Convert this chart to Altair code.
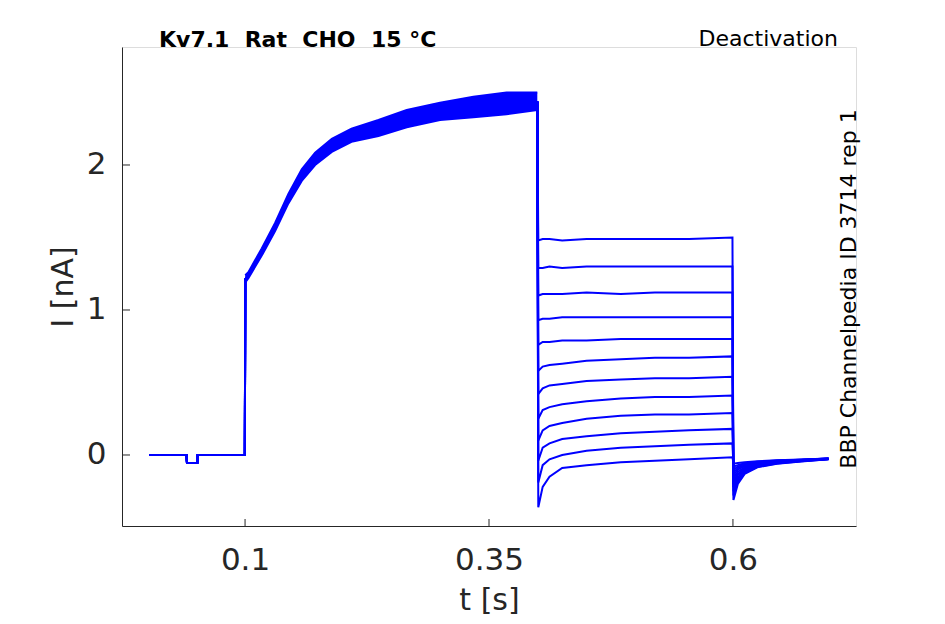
import altair as alt
import pandas as pd

# ---- values ----
T_BASE = [0.002, 0.040, 0.0405, 0.051, 0.0515, 0.0998]
I_BASE = [0.0, 0.0, -0.055, -0.055, 0.0, 0.0]

T_ACT = [0.1002, 0.1034, 0.1171, 0.1308, 0.1444, 0.1581, 0.1718, 0.1889,
         0.2091, 0.2367, 0.2657, 0.2998, 0.334, 0.368, 0.3995]
I_ACT_MID = [1.21, 1.24, 1.40, 1.57, 1.77, 1.93, 2.045, 2.135,
             2.205, 2.26, 2.32, 2.37, 2.40, 2.42, 2.43]
I_ACT_HI = [1.24, 1.26, 1.425, 1.60, 1.80, 1.97, 2.085, 2.18,
            2.25, 2.31, 2.38, 2.43, 2.47, 2.50, 2.50]
I_ACT_LO = [1.19, 1.22, 1.375, 1.545, 1.735, 1.89, 2.00, 2.09,
            2.16, 2.20, 2.26, 2.31, 2.33, 2.35, 2.38]

T_TAIL = [0.4005, 0.405, 0.412, 0.425, 0.45, 0.485, 0.52, 0.555, 0.5995]
TAIL_1 = [1.48, 1.49, 1.49, 1.48, 1.49, 1.49, 1.49, 1.49, 1.50]
TAIL_2 = [1.29, 1.29, 1.30, 1.29, 1.30, 1.30, 1.30, 1.30, 1.30]
TAIL_3 = [1.10, 1.11, 1.11, 1.11, 1.12, 1.11, 1.12, 1.12, 1.12]
TAIL_4 = [0.93, 0.94, 0.94, 0.95, 0.95, 0.95, 0.95, 0.95, 0.95]
TAIL_5 = [0.76, 0.78, 0.78, 0.79, 0.79, 0.80, 0.80, 0.80, 0.80]
TAIL_6 = [0.58, 0.61, 0.62, 0.63, 0.65, 0.66, 0.67, 0.67, 0.68]
TAIL_7 = [0.42, 0.46, 0.48, 0.49, 0.51, 0.52, 0.53, 0.53, 0.54]
TAIL_8 = [0.25, 0.31, 0.33, 0.35, 0.37, 0.39, 0.40, 0.40, 0.41]
TAIL_9 = [0.10, 0.17, 0.20, 0.22, 0.25, 0.27, 0.28, 0.28, 0.29]
TAIL_10 = [-0.04, 0.05, 0.08, 0.11, 0.13, 0.15, 0.16, 0.17, 0.18]
TAIL_11 = [-0.19, -0.07, -0.03, 0.00, 0.03, 0.05, 0.06, 0.07, 0.08]
TAIL_12 = [-0.36, -0.22, -0.15, -0.09, -0.07, -0.05, -0.04, -0.03, -0.015]

T_POST = [0.6005, 0.605, 0.612, 0.625, 0.645, 0.67, 0.698]
POST_1 = [-0.31, -0.20, -0.13, -0.085, -0.060, -0.045, -0.030]
POST_2 = [-0.28, -0.185, -0.125, -0.082, -0.058, -0.043, -0.030]
POST_3 = [-0.25, -0.17, -0.115, -0.078, -0.055, -0.042, -0.028]
POST_4 = [-0.22, -0.155, -0.108, -0.074, -0.053, -0.040, -0.028]
POST_5 = [-0.20, -0.14, -0.100, -0.070, -0.050, -0.038, -0.027]
POST_6 = [-0.18, -0.13, -0.092, -0.066, -0.048, -0.037, -0.027]
POST_7 = [-0.16, -0.115, -0.085, -0.062, -0.046, -0.036, -0.026]
POST_8 = [-0.14, -0.10, -0.077, -0.058, -0.044, -0.035, -0.026]
POST_9 = [-0.12, -0.09, -0.070, -0.054, -0.042, -0.034, -0.025]
POST_10 = [-0.10, -0.08, -0.063, -0.050, -0.040, -0.033, -0.025]
POST_11 = [-0.08, -0.07, -0.057, -0.047, -0.038, -0.032, -0.024]
POST_12 = [-0.06, -0.055, -0.050, -0.043, -0.036, -0.031, -0.024]

TAILS = [TAIL_1, TAIL_2, TAIL_3, TAIL_4, TAIL_5, TAIL_6,
         TAIL_7, TAIL_8, TAIL_9, TAIL_10, TAIL_11, TAIL_12]
POSTS = [POST_1, POST_2, POST_3, POST_4, POST_5, POST_6,
         POST_7, POST_8, POST_9, POST_10, POST_11, POST_12]

X_TICKS = [0.1, 0.35, 0.6]
Y_TICKS = [0, 1, 2]
X_DOMAIN = [-0.0261, 0.7261]
Y_DOMAIN = [-0.4897, 2.8138]

TITLE = "Kv7.1\u00a0\u00a0Rat\u00a0\u00a0CHO\u00a0\u00a015\u00a0°C"
PROTOCOL = "Deactivation"
SOURCE = "BBP Channelpedia ID 3714 rep 1"

# ---- build tables ----
rows = []
for k in range(12):
    ts = T_BASE + T_ACT + T_TAIL + T_POST
    vs = I_BASE + I_ACT_MID + TAILS[k] + POSTS[k]
    for j, (t, v) in enumerate(zip(ts, vs)):
        rows.append({"trace": k, "order": j, "t": t, "I": v})
traces = pd.DataFrame(rows)
band = pd.DataFrame({"t": T_ACT, "lo": I_ACT_LO, "hi": I_ACT_HI})

W, H = 734, 479
BLUE = "#0000ff"
AX = "#262626"
SW = 2.0

xs = alt.Scale(domain=X_DOMAIN, nice=False, zero=False)
ys = alt.Scale(domain=Y_DOMAIN, nice=False, zero=False)

x_axis = alt.Axis(values=X_TICKS, format=".2~f", ticks=False, grid=False,
                  domainColor=AX, labelColor=AX, labelFontSize=31,
                  labelFont="DejaVu Sans", labelPadding=19,
                  title="t [s]", titleFont="DejaVu Sans", titleFontSize=30,
                  titleFontWeight="normal", titleColor=AX,
                  titleBaseline="alphabetic", titleY=83)
y_axis = alt.Axis(values=Y_TICKS, format="d", ticks=False, grid=False,
                  domainColor=AX, labelColor=AX, labelFontSize=31,
                  labelFont="DejaVu Sans", labelPadding=16,
                  title="I [nA]", titleFont="DejaVu Sans", titleFontSize=30,
                  titleFontWeight="normal", titleColor=AX, titleAngle=-90,
                  titleBaseline="alphabetic", titleX=-50)

lines = alt.Chart(traces).mark_line(color=BLUE, strokeWidth=SW).encode(
    x=alt.X("t:Q", scale=xs, axis=x_axis),
    y=alt.Y("I:Q", scale=ys, axis=y_axis),
    detail="trace:N",
    order="order:Q",
)

band_area = alt.Chart(band).mark_area(color=BLUE, opacity=1).encode(
    x=alt.X("t:Q", scale=xs), y=alt.Y("lo:Q", scale=ys), y2="hi:Q")
band_hi = alt.Chart(band).mark_line(color=BLUE, strokeWidth=SW).encode(
    x=alt.X("t:Q", scale=xs), y=alt.Y("hi:Q", scale=ys))
band_lo = alt.Chart(band).mark_line(color=BLUE, strokeWidth=SW).encode(
    x=alt.X("t:Q", scale=xs), y=alt.Y("lo:Q", scale=ys))

xt = alt.Chart(pd.DataFrame({"v": X_TICKS})).mark_rule(color=AX, strokeWidth=1).encode(
    x=alt.X("v:Q", scale=xs), y=alt.value(H - 7), y2=alt.value(H))
yt = alt.Chart(pd.DataFrame({"v": Y_TICKS})).mark_rule(color=AX, strokeWidth=1).encode(
    y=alt.Y("v:Q", scale=ys), x=alt.value(0), x2=alt.value(8))

title = alt.Chart(pd.DataFrame({"s": [TITLE]})).mark_text(
    font="DejaVu Sans", fontSize=22, fontWeight="bold", color="black",
    align="left", baseline="alphabetic").encode(
    text="s:N", x=alt.value(37), y=alt.value(0))
proto = alt.Chart(pd.DataFrame({"s": [PROTOCOL]})).mark_text(
    font="DejaVu Sans", fontSize=22, color="black",
    align="right", baseline="alphabetic").encode(
    text="s:N", x=alt.value(716), y=alt.value(-1))
source = alt.Chart(pd.DataFrame({"s": [SOURCE]})).mark_text(
    font="DejaVu Sans", fontSize=22, color="black", angle=270,
    align="center", baseline="middle").encode(
    text="s:N", x=alt.value(727), y=alt.value(242))

chart = alt.layer(band_area, band_hi, band_lo, lines, xt, yt, title, proto, source).properties(
    width=W, height=H,
    autosize=alt.AutoSizeParams(type="none"),
    padding={"left": 114, "top": 39, "right": 70, "bottom": 90},
).configure_view(stroke=None).configure(background="white")

chart.save("out.html", embed_options={"renderer": "svg", "actions": False})
